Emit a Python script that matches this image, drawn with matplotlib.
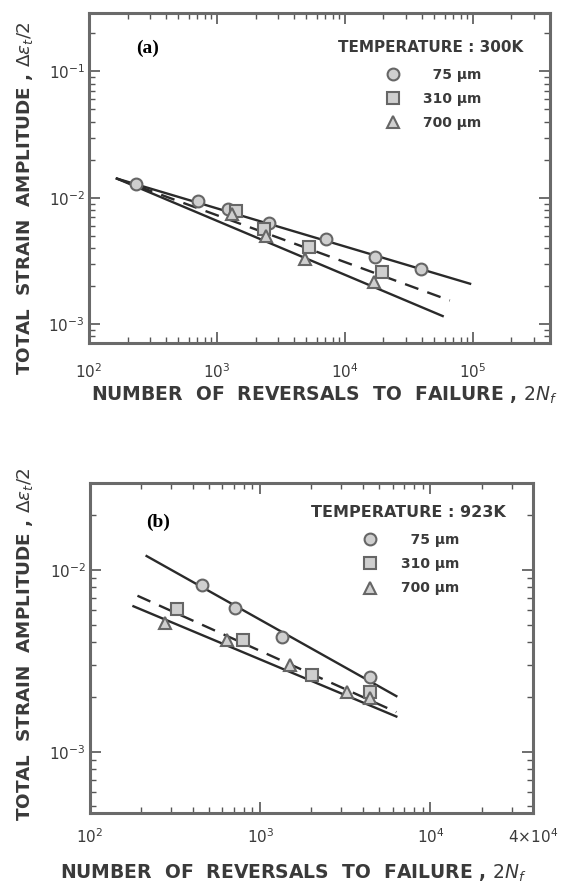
import numpy as np
import matplotlib
matplotlib.use("Agg")
import matplotlib.pyplot as plt


# (a) 300K: points and fitted lines
a_x_75 = [233, 707, 1230, 2550, 7100, 17200, 39000]
a_y_75 = [0.0129, 0.0095, 0.0082, 0.0063, 0.0047, 0.0034, 0.00275]
a_x_310 = [1410, 2350, 5250, 19500]
a_y_310 = [0.0079, 0.0057, 0.0041, 0.0026]
a_x_700 = [1300, 2400, 4900, 16800]
a_y_700 = [0.0075, 0.0050, 0.0033, 0.00215]

a_fit_x_75 = [165, 95000]
a_fit_y_75 = [0.0142, 0.00209]
a_fit_x_310 = [165, 66000]
a_fit_y_310 = [0.0142, 0.00154]
a_fit_x_700 = [165, 58000]
a_fit_y_700 = [0.0142, 0.00116]

# (b) 923K
b_x_75 = [456, 713, 1345, 4440]
b_y_75 = [0.0082, 0.0062, 0.00425, 0.00257]
b_x_310 = [325, 795, 2020, 4440]
b_y_310 = [0.0061, 0.0041, 0.00263, 0.00213]
b_x_700 = [276, 640, 1500, 3250, 4440]
b_y_700 = [0.0051, 0.0041, 0.0030, 0.00213, 0.00197]

b_fit_x_75 = [215, 6300]
b_fit_y_75 = [0.0119, 0.00202]
b_fit_x_310 = [190, 6300]
b_fit_y_310 = [0.0072, 0.00165]
b_fit_x_700 = [180, 6300]
b_fit_y_700 = [0.0063, 0.00156]

# figure space keeps the sizes right-aligned
sizes = ["\u200775 \u03bcm", "310 \u03bcm", "700 \u03bcm"]
markers = ["o", "s", "^"]

ink = "#2a2a2a"
grey = "#555555"
txt = "#3a3a3a"

fig = plt.figure(figsize=(5.76, 8.85), dpi=100)
ax1 = fig.add_axes([89/576, 1-343/885, 461/576, 330/885])
ax2 = fig.add_axes([90/576, 1-813/885, 443/576, 330/885])


def style(ax):
    ax.set_xscale("log")
    ax.set_yscale("log")
    ax.tick_params(which="both", direction="in", top=True, right=True,
                   color=grey, labelcolor=txt, labelsize=11)
    ax.tick_params(which="major", length=8, width=1.2)
    ax.tick_params(which="minor", length=4.5, width=1.0)
    for s in ax.spines.values():
        s.set_color("#6a6a6a")
        s.set_linewidth(2.2)


def points(ax, xs, ys, m):
    ax.plot(xs, ys, linestyle="none", marker=m, ms=8.5, mfc="#cfcfcf",
            mec="#666666", mew=1.5, zorder=3)


panels = [
    (ax1,
     [(a_x_75, a_y_75), (a_x_310, a_y_310), (a_x_700, a_y_700)],
     [(a_fit_x_75, a_fit_y_75), (a_fit_x_310, a_fit_y_310), (a_fit_x_700, a_fit_y_700)],
     "TEMPERATURE : 300K", (0.953, 0.935), 11),
    (ax2,
     [(b_x_75, b_y_75), (b_x_310, b_y_310), (b_x_700, b_y_700)],
     [(b_fit_x_75, b_fit_y_75), (b_fit_x_310, b_fit_y_310), (b_fit_x_700, b_fit_y_700)],
     "TEMPERATURE : 923K", (0.95, 0.95), 11.5),
]

for ax, pts, fits, temp, anchor, tsize in panels:
    style(ax)
    ax.plot(fits[0][0], fits[0][1], color=ink, lw=1.7)
    ax.plot(fits[1][0], fits[1][1], color=ink, lw=1.7, dashes=(6, 4))
    ax.plot(fits[2][0], fits[2][1], color=ink, lw=1.7)
    handles = []
    for (xs, ys), m, lab in zip(pts, markers, sizes):
        points(ax, xs, ys, m)
        h, = ax.plot([], [], linestyle="none", marker=m, ms=8.5, mfc="#cfcfcf",
                     mec="#666666", mew=1.5, label=lab)
        handles.append(h)
    leg = ax.legend(handles=handles, title=temp, loc="upper right",
                    bbox_to_anchor=anchor, frameon=False,
                    labelspacing=0.75, handletextpad=1.2, borderaxespad=0.0,
                    prop={"weight": "bold", "size": 10})
    leg.get_title().set_fontweight("bold")
    leg.get_title().set_fontsize(tsize)
    leg.get_title().set_color(txt)
    leg._legend_box.sep = 9
    for t in leg.get_texts():
        t.set_color(txt)
    ax.set_ylabel(r"TOTAL  STRAIN  AMPLITUDE , $\Delta\varepsilon_t/2$",
                  fontsize=13.2, fontweight="bold", color=txt, va="center")
    ax.set_xlabel(r"NUMBER  OF  REVERSALS  TO  FAILURE , $2N_f$",
                  fontsize=13.5, fontweight="bold", color=txt, va="center")

ax1.set_xlim(100, 4e5)
ax1.set_ylim(7.1e-4, 0.29)
ax1.tick_params(axis="x", which="major", pad=14)
ax1.tick_params(axis="y", which="major", pad=3)
ax1.yaxis.set_label_coords(-0.139, 0.44)
ax1.xaxis.set_label_coords(0.51, -0.16)
ax1.text(0.128, 0.894, "(a)", transform=ax1.transAxes, fontsize=14,
         fontweight="bold", family="Liberation Serif", ha="center", va="center")

ax2.set_xlim(100, 4e4)
ax2.set_ylim(4.6e-4, 3e-2)
ax2.set_xticks([1e2, 1e3, 1e4, 4e4])
ax2.set_xticklabels([r"$10^2$", r"$10^3$", r"$10^4$", r"$4{\times}10^4$"])
ax2.tick_params(axis="x", which="major", pad=10)
ax2.tick_params(axis="y", which="major", pad=3)
ax2.yaxis.set_label_coords(-0.147, 0.51)
ax2.xaxis.set_label_coords(0.458, -0.183)
ax2.text(0.153, 0.882, "(b)", transform=ax2.transAxes, fontsize=14,
         fontweight="bold", family="Liberation Serif", ha="center", va="center")

fig.savefig("out.png", dpi=100)
